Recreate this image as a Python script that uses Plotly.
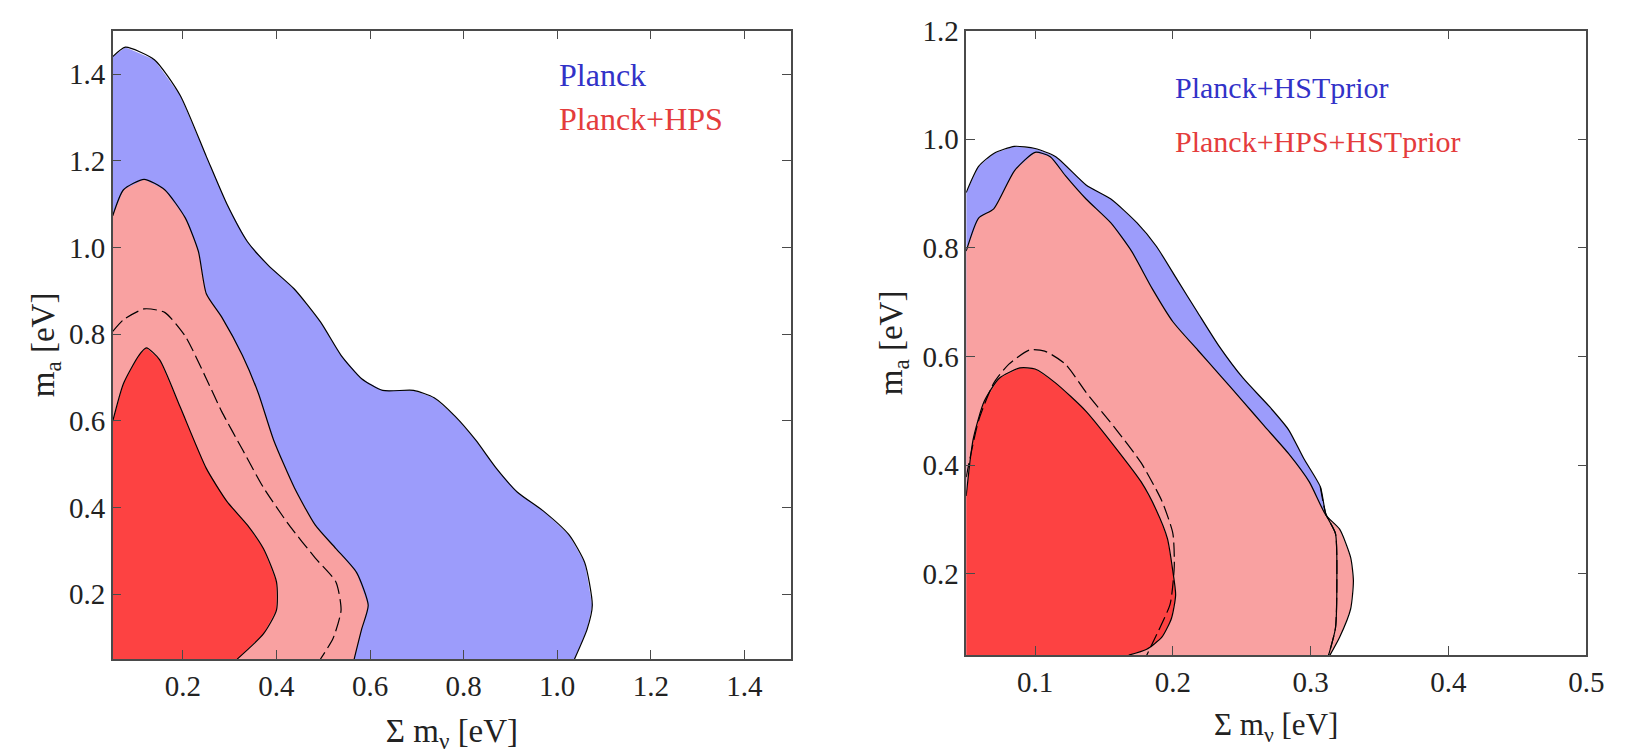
import plotly.graph_objects as go

# ---------------- Left panel: Planck vs Planck+HPS ----------------
# Planck, 95% region boundary (sum m_nu, m_a) in eV
planck95_x = [0.05, 0.077, 0.139, 0.194, 0.25, 0.294, 0.338, 0.383, 0.438, 0.494, 0.538,
              0.582, 0.627, 0.693, 0.737, 0.782, 0.826, 0.87, 0.915, 0.97, 1.025, 1.059,
              1.075, 1.064, 1.037]
planck95_y = [1.44, 1.462, 1.433, 1.351, 1.21, 1.10, 1.013, 0.958, 0.904, 0.828, 0.751,
              0.697, 0.67, 0.67, 0.653, 0.61, 0.555, 0.49, 0.435, 0.392, 0.337, 0.272,
              0.174, 0.119, 0.05]
# Planck, 68% region boundary (dashed)
planck68_x = [0.05, 0.073, 0.117, 0.161, 0.205, 0.25, 0.283, 0.327, 0.372, 0.427, 0.483,
              0.527, 0.538, 0.521, 0.494]
planck68_y = [0.806, 0.833, 0.858, 0.85, 0.795, 0.697, 0.621, 0.534, 0.446, 0.359, 0.283,
              0.228, 0.163, 0.098, 0.05]
# Planck+HPS, 95% region boundary
hps95_x = [0.05, 0.073, 0.117, 0.161, 0.205, 0.233, 0.25, 0.283, 0.327, 0.361, 0.394,
           0.438, 0.483, 0.527, 0.571, 0.596, 0.582, 0.566]
hps95_y = [1.073, 1.133, 1.157, 1.133, 1.068, 0.991, 0.893, 0.839, 0.751, 0.664, 0.555,
           0.446, 0.359, 0.305, 0.25, 0.174, 0.119, 0.05]
# Planck+HPS, 68% region boundary
hps68_x = [0.05, 0.073, 0.106, 0.122, 0.15, 0.194, 0.25, 0.294, 0.338, 0.372, 0.40, 0.40,
           0.372, 0.316]
hps68_y = [0.599, 0.686, 0.751, 0.768, 0.741, 0.632, 0.49, 0.414, 0.359, 0.305, 0.228,
           0.163, 0.108, 0.05]

# ---------------- Right panel: with HST prior ----------------
hst95_x = [0.05, 0.059, 0.07, 0.085, 0.10, 0.115, 0.137, 0.155, 0.174, 0.188, 0.203, 0.218,
           0.233, 0.251, 0.27, 0.284, 0.295, 0.307, 0.311, 0.318, 0.319, 0.318, 0.313]
hst95_y = [0.902, 0.95, 0.974, 0.987, 0.983, 0.968, 0.916, 0.89, 0.846, 0.803, 0.742, 0.681,
           0.621, 0.56, 0.508, 0.465, 0.412, 0.36, 0.31, 0.274, 0.187, 0.10, 0.05]
hst68_x = [0.05, 0.059, 0.07, 0.081, 0.096, 0.107, 0.122, 0.137, 0.159, 0.177, 0.192, 0.20,
           0.201, 0.198, 0.189, 0.181]
hst68_y = [0.378, 0.482, 0.551, 0.586, 0.612, 0.61, 0.586, 0.534, 0.465, 0.404, 0.334, 0.274,
           0.213, 0.144, 0.092, 0.05]
hpshst95_x = [0.05, 0.059, 0.07, 0.085, 0.10, 0.111, 0.122, 0.137, 0.155, 0.17, 0.185, 0.20,
              0.218, 0.233, 0.251, 0.266, 0.284, 0.299, 0.311, 0.321, 0.329, 0.331, 0.329,
              0.321, 0.314]
hpshst95_y = [0.794, 0.855, 0.872, 0.942, 0.976, 0.968, 0.933, 0.89, 0.846, 0.794, 0.725,
              0.664, 0.612, 0.569, 0.517, 0.473, 0.421, 0.369, 0.308, 0.282, 0.23, 0.187,
              0.135, 0.083, 0.05]
hpshst68_x = [0.05, 0.055, 0.063, 0.074, 0.089, 0.10, 0.115, 0.137, 0.159, 0.177, 0.188,
              0.196, 0.20, 0.202, 0.199, 0.192, 0.181, 0.168]
hpshst68_y = [0.343, 0.447, 0.517, 0.56, 0.579, 0.577, 0.551, 0.499, 0.43, 0.369, 0.317,
              0.265, 0.204, 0.161, 0.118, 0.083, 0.061, 0.05]

# Axis settings
left_xrange = [0.05, 1.5]
left_yrange = [0.05, 1.5]
right_xrange = [0.05, 0.5]
right_yrange = [0.05, 1.2]
left_xticks = [0.2, 0.4, 0.6, 0.8, 1.0, 1.2, 1.4]
left_yticks = [0.2, 0.4, 0.6, 0.8, 1.0, 1.2, 1.4]
right_xticks = [0.1, 0.2, 0.3, 0.4, 0.5]
right_yticks = [0.2, 0.4, 0.6, 0.8, 1.0, 1.2]

BLUE_FILL = "#9c9cfb"
LRED_FILL = "#f9a1a1"
DRED_FILL = "#fd4242"
BLUE_TEXT = "#3232c8"
RED_TEXT = "#e43c3c"
FONT = "Liberation Serif"

fig = go.Figure()


def region(xs, ys, xr, yr, color, xa, ya):
    # closed polygon including the lower-left corner of the plotting window
    px = list(xs) + [xr[0], xs[0]]
    py = list(ys) + [yr[0], ys[0]]
    fig.add_trace(go.Scatter(x=px, y=py, mode="lines", fill="toself", fillcolor=color,
                             line=dict(width=0), xaxis=xa, yaxis=ya, hoverinfo="skip",
                             showlegend=False))


def outline(xs, ys, xa, ya, dash="solid"):
    fig.add_trace(go.Scatter(x=xs, y=ys, mode="lines", line=dict(color="black", width=1.2,
                             dash=dash, shape="spline", smoothing=0.6),
                             xaxis=xa, yaxis=ya, hoverinfo="skip", showlegend=False))


# left panel
region(planck95_x, planck95_y, left_xrange, left_yrange, BLUE_FILL, "x", "y")
region(hps95_x, hps95_y, left_xrange, left_yrange, LRED_FILL, "x", "y")
region(hps68_x, hps68_y, left_xrange, left_yrange, DRED_FILL, "x", "y")
outline(planck95_x, planck95_y, "x", "y")
outline(hps95_x, hps95_y, "x", "y")
outline(hps68_x, hps68_y, "x", "y")
outline(planck68_x, planck68_y, "x", "y", dash="14px,5px")

# right panel
region(hst95_x, hst95_y, right_xrange, right_yrange, BLUE_FILL, "x2", "y2")
region(hpshst95_x, hpshst95_y, right_xrange, right_yrange, LRED_FILL, "x2", "y2")
region(hpshst68_x, hpshst68_y, right_xrange, right_yrange, DRED_FILL, "x2", "y2")
outline(hst95_x, hst95_y, "x2", "y2")
outline(hpshst95_x, hpshst95_y, "x2", "y2")
outline(hpshst68_x, hpshst68_y, "x2", "y2")
outline(hst68_x, hst68_y, "x2", "y2", dash="14px,5px")
outline(hst95_x[17:], hst95_y[17:], "x2", "y2", dash="14px,5px")

axis_common = dict(showline=True, linecolor="#4a4a4a", linewidth=1.5, mirror="ticks",
                   ticks="inside", ticklen=9, tickwidth=1.3, tickcolor="#4a4a4a",
                   showgrid=False, zeroline=False, ticklabeloverflow="allow",
                   tickfont=dict(family=FONT, size=29, color="#222"))

xt = "Σ m<sub>ν</sub> [eV]"
yt = "m<sub>a</sub> [eV]"
title_font = dict(family=FONT, size=33, color="#222")

fig.update_layout(
    width=1627, height=755,
    paper_bgcolor="white", plot_bgcolor="white",
    margin=dict(l=0, r=0, t=0, b=0),
    xaxis=dict(domain=[114 / 1627, 800 / 1627], range=left_xrange, tickvals=left_xticks,
               ticktext=[f"{v:.1f}" for v in left_xticks], anchor="y",
               title=dict(text=xt, font=title_font, standoff=18), **axis_common),
    yaxis=dict(domain=[98 / 755, 740 / 755], range=left_yrange, tickvals=left_yticks,
               ticktext=[f"{v:.1f}" for v in left_yticks], anchor="x",
               title=dict(text=yt, font=title_font, standoff=4), **axis_common),
    xaxis2=dict(domain=[977 / 1627, 1604 / 1627], range=right_xrange, tickvals=right_xticks,
                ticktext=[f"{v:.1f}" for v in right_xticks], anchor="y2",
                title=dict(text=xt, font=dict(family=FONT, size=31, color="#222"),
                           standoff=17), **axis_common),
    yaxis2=dict(domain=[102 / 755, 740 / 755], range=right_yrange, tickvals=right_yticks,
                ticktext=[f"{v:.1f}" for v in right_yticks], anchor="x2",
                title=dict(text=yt, font=title_font, standoff=10), **axis_common),
    annotations=[
        dict(text="Planck", x=1.0, y=1.397, xref="x", yref="y", xanchor="left",
             yanchor="middle", showarrow=False, font=dict(family=FONT, size=32, color=BLUE_TEXT)),
        dict(text="Planck+HPS", x=1.0, y=1.297, xref="x", yref="y", xanchor="left",
             yanchor="middle", showarrow=False, font=dict(family=FONT, size=32, color=RED_TEXT)),
        dict(text="Planck+HSTprior", x=0.2, y=1.095, xref="x2", yref="y2", xanchor="left",
             yanchor="middle", showarrow=False, font=dict(family=FONT, size=30, color=BLUE_TEXT)),
        dict(text="Planck+HPS+HSTprior", x=0.2, y=0.996, xref="x2", yref="y2", xanchor="left",
             yanchor="middle", showarrow=False, font=dict(family=FONT, size=30, color=RED_TEXT)),
    ],
)

fig.write_html("out.html")
